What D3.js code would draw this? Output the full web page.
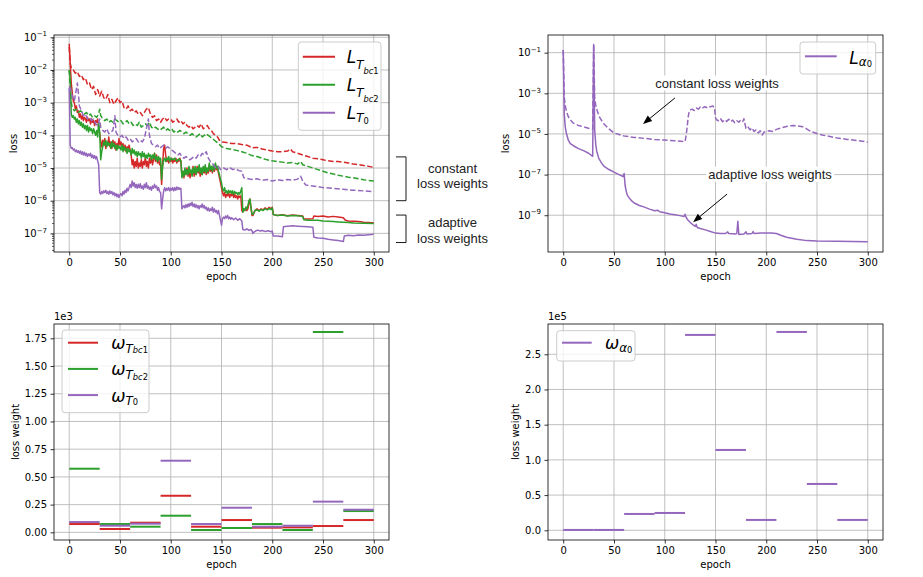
<!DOCTYPE html>
<html>
<head>
<meta charset="utf-8">
<script src="https://cdn.jsdelivr.net/npm/d3@7"></script>
<style>
  body { margin: 0; background: #fff; }
  svg { display: block; }
</style>
</head>
<body>
<script>
// ---------- data ----------
// top panels: [epoch, log10(loss)]
const epochTicks = [0, 50, 100, 150, 200, 250, 300];

const bc1Constant = [[0,-1.3],[1,-1.8],[2,-1.95],[4,-2.0],[6,-2.1],[8,-2.05],[10,-2.2],[12,-2.15],[14,-2.3],[16,-2.25],[18,-2.45],[20,-2.4],[22,-2.6],[24,-2.5],[26,-2.75],[28,-2.6],[30,-2.8],[32,-2.65],[34,-2.85],[36,-2.9],[38,-2.75],[40,-3.0],[42,-2.9],[44,-3.05],[46,-2.95],[48,-2.85],[50,-3.0],[52,-2.95],[54,-3.15],[56,-3.2],[58,-3.1],[60,-3.25],[62,-3.2],[64,-3.3],[66,-3.25],[68,-3.35],[70,-3.3],[72,-3.4],[74,-3.3],[76,-3.2],[78,-3.15],[80,-3.35],[82,-3.45],[84,-3.4],[86,-3.55],[88,-3.5],[90,-3.6],[92,-3.5],[94,-3.45],[96,-3.55],[98,-3.5],[100,-3.5],[102,-3.6],[104,-3.55],[106,-3.5],[108,-3.6],[110,-3.55],[112,-3.65],[114,-3.6],[116,-3.7],[118,-3.75],[120,-3.7],[122,-3.8],[124,-3.75],[126,-3.7],[128,-3.75],[130,-3.65],[132,-3.8],[134,-3.75],[136,-3.7],[138,-3.8],[140,-3.85],[142,-3.95],[144,-4.0],[146,-4.05],[148,-4.15],[150,-4.2],[155,-4.22],[160,-4.25],[165,-4.25],[170,-4.28],[175,-4.3],[180,-4.38],[185,-4.37],[190,-4.42],[195,-4.45],[200,-4.48],[205,-4.5],[210,-4.5],[215,-4.48],[218,-4.42],[220,-4.5],[225,-4.55],[230,-4.6],[235,-4.65],[240,-4.7],[245,-4.72],[250,-4.75],[255,-4.78],[260,-4.8],[265,-4.8],[270,-4.82],[275,-4.85],[280,-4.88],[285,-4.9],[290,-4.92],[295,-4.95],[300,-4.98]];

const bc2Constant = [[0,-2.0],[1,-2.6],[2,-3.0],[3,-3.15],[5,-3.25],[7,-3.2],[9,-3.3],[11,-3.25],[13,-3.3],[15,-3.35],[17,-3.3],[19,-3.4],[21,-3.35],[23,-3.45],[25,-3.4],[27,-3.45],[29,-3.35],[30,-3.2],[31,-3.4],[33,-3.5],[35,-3.55],[37,-3.5],[39,-3.6],[41,-3.55],[43,-3.6],[45,-3.5],[47,-3.55],[49,-3.6],[51,-3.55],[53,-3.65],[55,-3.6],[57,-3.55],[59,-3.65],[61,-3.6],[63,-3.7],[65,-3.65],[67,-3.7],[69,-3.6],[71,-3.75],[73,-3.7],[75,-3.65],[77,-3.7],[79,-3.6],[81,-3.75],[83,-3.8],[85,-3.75],[87,-3.8],[89,-3.85],[91,-3.8],[93,-3.75],[95,-3.85],[97,-3.8],[99,-3.85],[101,-3.8],[103,-3.9],[105,-3.85],[107,-3.9],[109,-3.85],[111,-3.9],[113,-3.95],[115,-3.9],[117,-3.95],[119,-4.0],[121,-3.95],[123,-4.0],[125,-4.05],[127,-4.0],[129,-3.95],[131,-4.05],[133,-4.0],[135,-3.95],[137,-4.0],[139,-4.05],[141,-4.1],[143,-4.15],[145,-4.2],[148,-4.28],[150,-4.35],[155,-4.4],[160,-4.43],[165,-4.46],[170,-4.5],[175,-4.55],[180,-4.62],[185,-4.65],[190,-4.7],[195,-4.75],[200,-4.78],[205,-4.8],[210,-4.82],[215,-4.85],[220,-4.83],[225,-4.88],[228,-4.8],[230,-4.9],[235,-4.95],[240,-5.0],[245,-5.05],[250,-5.1],[255,-5.15],[260,-5.18],[265,-5.22],[270,-5.25],[275,-5.28],[280,-5.3],[285,-5.33],[290,-5.36],[295,-5.38],[300,-5.4]];

const t0Constant = [[0,-2.5],[1,-2.55],[3,-2.8],[5,-2.95],[7,-2.6],[8,-2.4],[9,-2.7],[10,-3.1],[12,-3.25],[14,-3.4],[16,-3.35],[18,-3.5],[20,-3.45],[22,-3.55],[24,-3.5],[26,-3.65],[28,-3.7],[30,-3.5],[31,-3.75],[33,-3.85],[35,-3.9],[37,-3.8],[39,-3.95],[41,-3.9],[43,-3.85],[45,-3.4],[46,-3.9],[48,-4.0],[50,-4.05],[52,-4.0],[54,-4.1],[56,-4.05],[58,-4.15],[60,-4.1],[62,-4.2],[64,-4.15],[66,-4.1],[68,-4.2],[70,-4.15],[72,-4.2],[74,-4.1],[76,-3.8],[78,-3.5],[79,-4.0],[81,-4.25],[83,-4.3],[85,-4.35],[87,-4.3],[89,-4.4],[91,-4.35],[93,-4.3],[95,-4.4],[97,-4.35],[99,-4.4],[101,-4.45],[103,-4.5],[105,-4.55],[107,-4.6],[109,-4.55],[111,-4.65],[113,-4.7],[115,-4.65],[117,-4.7],[119,-4.75],[121,-4.7],[123,-4.65],[125,-4.7],[127,-4.6],[129,-4.65],[131,-4.55],[133,-4.6],[135,-4.5],[137,-4.7],[139,-4.8],[141,-4.85],[143,-4.95],[145,-5.0],[147,-4.95],[149,-5.05],[152,-5.0],[155,-5.05],[158,-4.98],[161,-5.05],[164,-5.02],[167,-5.08],[170,-5.1],[172,-5.3],[175,-5.32],[180,-5.35],[185,-5.33],[190,-5.38],[195,-5.35],[200,-5.4],[205,-5.36],[210,-5.38],[215,-5.35],[220,-5.37],[225,-5.34],[228,-5.25],[230,-5.4],[233,-5.52],[240,-5.55],[245,-5.57],[250,-5.6],[260,-5.62],[270,-5.65],[280,-5.68],[290,-5.7],[300,-5.72]];

const bc1Adaptive = [[0,-1.2],[1,-1.8],[2,-2.4],[3,-2.7],[4,-2.95],[5,-3.0],[6,-3.2],[7,-3.1],[8,-3.3],[9,-3.25],[10,-3.45],[11,-3.35],[12,-3.5],[13,-3.4],[14,-3.55],[15,-3.45],[16,-3.5],[17,-3.6],[18,-3.45],[19,-3.55],[20,-3.5],[21,-3.65],[22,-3.5],[23,-3.6],[24,-3.55],[25,-3.7],[26,-3.55],[27,-3.6],[28,-3.5],[29,-3.75],[30,-3.95],[31,-4.2],[32,-4.35],[33,-4.15],[34,-4.3],[35,-4.1],[36,-4.4],[37,-4.2],[38,-4.3],[39,-4.05],[40,-4.35],[41,-4.2],[42,-4.4],[43,-4.15],[44,-4.3],[45,-4.2],[46,-4.45],[47,-4.25],[48,-4.35],[49,-4.1],[50,-4.3],[51,-4.2],[52,-4.4],[53,-4.25],[54,-4.45],[55,-4.3],[56,-4.5],[57,-4.35],[58,-4.4],[59,-4.3],[60,-4.45],[61,-4.6],[62,-4.9],[63,-4.75],[64,-5.0],[65,-4.8],[66,-4.95],[67,-4.7],[68,-5.0],[69,-4.85],[70,-4.95],[71,-4.75],[72,-5.0],[73,-4.8],[74,-4.9],[75,-4.65],[76,-4.95],[77,-4.8],[78,-5.0],[79,-4.7],[80,-4.85],[81,-4.65],[82,-4.9],[83,-4.75],[84,-4.55],[85,-4.8],[86,-4.6],[87,-4.85],[88,-4.7],[89,-4.9],[90,-4.85],[91,-5.5],[92,-4.9],[93,-4.4],[94,-4.3],[95,-4.6],[96,-4.8],[97,-4.7],[98,-4.85],[99,-4.75],[100,-4.8],[101,-4.7],[102,-4.85],[103,-4.75],[104,-4.8],[105,-4.7],[106,-4.85],[107,-4.75],[108,-4.8],[109,-4.7],[110,-4.8],[111,-5.25],[112,-5.1],[113,-5.3],[114,-5.05],[115,-5.2],[116,-5.0],[117,-5.25],[118,-5.05],[119,-5.3],[120,-5.1],[121,-5.2],[122,-4.95],[123,-5.25],[124,-5.05],[125,-5.2],[126,-4.95],[127,-5.15],[128,-5.0],[129,-5.25],[130,-5.05],[131,-5.2],[132,-5.0],[133,-5.15],[134,-4.95],[135,-5.2],[136,-5.05],[137,-5.15],[138,-4.9],[139,-5.1],[140,-5.0],[141,-5.15],[142,-4.95],[143,-5.1],[144,-4.9],[145,-5.05],[146,-5.0],[147,-5.15],[148,-5.3],[149,-5.45],[150,-5.6],[151,-5.75],[152,-5.85],[153,-5.75],[154,-5.9],[155,-5.8],[156,-5.85],[157,-5.75],[158,-5.9],[159,-5.8],[160,-5.85],[161,-5.75],[162,-5.9],[163,-5.8],[164,-5.9],[165,-5.85],[166,-5.95],[167,-5.85],[168,-5.9],[169,-5.85],[170,-6.3],[171,-6.35],[172,-6.25],[173,-6.3],[174,-6.2],[175,-6.3],[176,-6.25],[177,-6.1],[178,-5.95],[179,-6.2],[180,-6.45],[181,-6.45],[183,-6.3],[185,-6.25],[187,-6.3],[189,-6.25],[191,-6.28],[193,-6.22],[195,-6.27],[197,-6.2],[199,-6.25],[200,-6.2],[201,-6.42],[205,-6.45],[210,-6.43],[215,-6.46],[220,-6.44],[225,-6.45],[230,-6.47],[231,-6.55],[235,-6.56],[240,-6.55],[241,-6.47],[245,-6.48],[250,-6.47],[255,-6.5],[260,-6.48],[265,-6.5],[270,-6.52],[272,-6.6],[275,-6.62],[280,-6.63],[285,-6.64],[290,-6.66],[295,-6.67],[300,-6.68]];

const bc2Adaptive = [[0,-2.0],[1,-2.3],[2,-3.35],[3,-3.45],[4,-3.4],[5,-3.5],[6,-3.45],[7,-3.6],[8,-3.5],[9,-3.65],[10,-3.55],[11,-3.7],[12,-3.6],[13,-3.75],[14,-3.65],[15,-3.8],[16,-3.7],[17,-3.85],[18,-3.7],[19,-3.9],[20,-3.75],[21,-3.85],[22,-3.8],[23,-3.95],[24,-3.8],[25,-3.9],[26,-4.0],[27,-3.85],[28,-4.05],[29,-3.6],[30,-3.9],[31,-4.75],[32,-4.5],[33,-4.35],[34,-4.2],[35,-4.3],[36,-4.15],[37,-4.35],[38,-4.2],[39,-4.3],[40,-4.25],[41,-4.4],[42,-4.2],[43,-4.35],[44,-4.25],[45,-4.4],[46,-4.3],[47,-4.45],[48,-4.3],[49,-4.4],[50,-4.35],[51,-4.45],[52,-4.3],[53,-4.5],[54,-4.35],[55,-4.45],[56,-4.4],[57,-4.55],[58,-4.4],[59,-4.5],[60,-4.45],[61,-4.6],[62,-4.4],[63,-4.55],[64,-4.45],[65,-4.6],[66,-4.5],[67,-4.65],[68,-4.5],[69,-4.6],[70,-4.55],[71,-4.7],[72,-4.5],[73,-4.65],[74,-4.55],[75,-4.7],[76,-4.6],[77,-4.7],[78,-4.55],[79,-4.65],[80,-4.6],[81,-4.75],[82,-4.6],[83,-4.7],[84,-4.55],[85,-4.75],[86,-4.65],[87,-4.8],[88,-4.65],[89,-4.75],[90,-4.7],[91,-5.35],[92,-4.95],[93,-4.75],[94,-4.7],[95,-4.8],[96,-4.7],[97,-4.75],[98,-4.65],[99,-4.8],[100,-4.7],[102,-4.75],[104,-4.7],[106,-4.8],[108,-4.72],[110,-4.78],[111,-5.3],[112,-5.1],[113,-5.25],[114,-5.0],[115,-5.2],[116,-5.05],[117,-5.2],[118,-4.95],[119,-5.15],[120,-5.05],[121,-5.25],[122,-5.0],[123,-5.15],[124,-4.95],[125,-5.2],[126,-5.0],[127,-5.1],[128,-4.9],[129,-5.15],[130,-5.0],[131,-5.2],[132,-4.95],[133,-5.1],[134,-4.9],[135,-5.15],[136,-5.0],[137,-5.1],[138,-4.85],[139,-5.05],[140,-4.95],[141,-5.1],[142,-4.9],[143,-5.05],[144,-4.85],[145,-5.0],[146,-4.95],[147,-5.1],[148,-5.2],[149,-5.35],[150,-5.45],[151,-5.65],[152,-5.7],[153,-5.6],[154,-5.75],[155,-5.7],[156,-5.78],[157,-5.68],[158,-5.75],[159,-5.7],[160,-5.78],[161,-5.7],[162,-5.8],[163,-5.72],[164,-5.78],[165,-5.75],[166,-5.82],[167,-5.75],[168,-5.8],[169,-5.7],[170,-5.6],[171,-6.35],[172,-6.25],[173,-6.3],[174,-6.2],[175,-6.25],[176,-6.15],[177,-6.0],[178,-5.95],[179,-6.2],[180,-6.4],[181,-6.42],[183,-6.3],[185,-6.28],[187,-6.32],[189,-6.27],[191,-6.3],[193,-6.25],[195,-6.28],[197,-6.24],[199,-6.27],[200,-6.22],[201,-6.42],[205,-6.45],[210,-6.44],[215,-6.47],[220,-6.45],[225,-6.46],[230,-6.48],[231,-6.58],[235,-6.6],[240,-6.6],[245,-6.6],[250,-6.62],[255,-6.63],[260,-6.64],[265,-6.65],[270,-6.66],[275,-6.67],[280,-6.68],[290,-6.69],[300,-6.7]];

const t0Adaptive = [[0,-2.55],[1,-4.3],[2,-4.4],[3,-4.38],[4,-4.45],[5,-4.42],[6,-4.5],[7,-4.45],[8,-4.52],[9,-4.47],[10,-4.55],[11,-4.48],[12,-4.58],[13,-4.5],[14,-4.6],[15,-4.52],[16,-4.62],[17,-4.55],[18,-4.65],[19,-4.57],[20,-4.62],[21,-4.55],[22,-4.68],[23,-4.6],[24,-4.7],[25,-4.62],[26,-4.72],[27,-4.65],[28,-4.78],[29,-4.9],[30,-5.75],[31,-5.8],[32,-5.72],[33,-5.78],[34,-5.7],[35,-5.75],[36,-5.68],[37,-5.78],[38,-5.72],[39,-5.8],[40,-5.7],[41,-5.78],[42,-5.72],[43,-5.82],[44,-5.75],[45,-5.85],[46,-5.78],[47,-5.88],[48,-5.8],[49,-5.9],[50,-5.82],[51,-5.78],[52,-5.85],[53,-5.72],[54,-5.8],[55,-5.68],[56,-5.75],[57,-5.62],[58,-5.7],[59,-5.6],[60,-5.5],[61,-5.6],[62,-5.4],[63,-5.55],[64,-5.45],[65,-5.6],[66,-5.5],[67,-5.62],[68,-5.5],[69,-5.6],[70,-5.48],[71,-5.62],[72,-5.55],[73,-5.65],[74,-5.5],[75,-5.6],[76,-5.45],[77,-5.62],[78,-5.55],[79,-5.65],[80,-5.58],[81,-5.68],[82,-5.55],[83,-5.62],[84,-5.5],[85,-5.6],[86,-5.55],[87,-5.68],[88,-5.6],[89,-5.72],[90,-5.75],[91,-6.25],[92,-5.95],[93,-5.7],[94,-5.6],[95,-5.7],[96,-5.62],[97,-5.68],[98,-5.6],[99,-5.7],[100,-5.62],[101,-5.68],[102,-5.6],[103,-5.7],[104,-5.6],[105,-5.68],[106,-5.58],[107,-5.66],[108,-5.6],[109,-5.65],[110,-5.62],[111,-6.25],[112,-6.2],[113,-6.15],[114,-6.22],[115,-6.12],[116,-6.2],[117,-6.1],[118,-6.18],[119,-6.08],[120,-6.15],[121,-6.05],[122,-6.18],[123,-6.1],[124,-6.2],[125,-6.12],[126,-6.22],[127,-6.15],[128,-6.25],[129,-6.15],[130,-6.2],[131,-6.1],[132,-6.22],[133,-6.15],[134,-6.25],[135,-6.2],[136,-6.3],[137,-6.22],[138,-6.32],[139,-6.25],[140,-6.3],[141,-6.2],[142,-6.35],[143,-6.25],[144,-6.35],[145,-6.3],[146,-6.4],[147,-6.3],[148,-6.45],[149,-6.6],[150,-6.75],[151,-6.55],[152,-6.5],[153,-6.55],[154,-6.47],[155,-6.53],[156,-6.45],[157,-6.55],[158,-6.5],[159,-6.57],[160,-6.52],[162,-6.58],[164,-6.53],[166,-6.6],[168,-6.55],[170,-6.62],[171,-6.88],[173,-6.9],[175,-6.86],[177,-6.91],[179,-6.88],[180,-6.92],[181,-7.0],[182,-6.96],[184,-6.92],[186,-6.9],[188,-6.93],[190,-6.91],[193,-6.94],[196,-6.92],[199,-6.95],[200,-6.93],[201,-7.08],[205,-7.08],[210,-7.1],[211,-6.8],[215,-6.78],[220,-6.77],[225,-6.78],[230,-6.79],[235,-6.8],[240,-6.81],[241,-7.12],[245,-7.14],[250,-7.15],[255,-7.18],[260,-7.2],[265,-7.22],[270,-7.25],[271,-7.08],[275,-7.06],[280,-7.07],[285,-7.05],[290,-7.06],[295,-7.04],[300,-7.03]];

const a0Adaptive = [[0,-0.87],[1,-4.0],[2,-4.65],[3,-4.95],[5,-5.3],[7,-5.48],[10,-5.58],[15,-5.72],[20,-5.82],[25,-5.95],[29,-6.1],[30,-0.6],[31,-4.8],[32,-5.5],[33,-5.85],[35,-6.2],[38,-6.45],[40,-6.58],[45,-6.75],[50,-6.88],[55,-7.0],[59,-7.1],[60,-6.95],[61,-7.55],[62,-7.8],[63,-8.0],[65,-8.15],[68,-8.32],[70,-8.4],[75,-8.52],[80,-8.6],[85,-8.7],[90,-8.78],[93,-8.75],[95,-8.83],[100,-8.88],[105,-8.94],[110,-8.98],[115,-9.02],[119,-9.06],[120,-8.95],[121,-9.1],[123,-9.25],[125,-9.35],[128,-9.48],[130,-9.55],[131,-9.45],[132,-9.6],[135,-9.65],[140,-9.72],[145,-9.8],[150,-9.88],[155,-9.9],[160,-9.9],[162,-9.82],[163,-9.9],[170,-9.92],[171,-9.9],[172,-9.3],[173,-9.95],[178,-9.92],[180,-9.82],[181,-9.92],[186,-9.9],[187,-9.8],[188,-9.9],[195,-9.88],[200,-9.88],[205,-9.88],[210,-9.9],[215,-10.0],[220,-10.08],[230,-10.18],[240,-10.25],[250,-10.27],[270,-10.28],[300,-10.3]];

const a0Constant = [[0,-0.87],[1,-3.2],[2,-3.6],[3,-3.85],[5,-4.15],[7,-4.3],[10,-4.47],[15,-4.58],[20,-4.65],[25,-4.72],[29,-4.76],[30,-0.6],[31,-3.2],[32,-3.6],[34,-3.95],[36,-4.2],[40,-4.5],[45,-4.75],[50,-4.95],[55,-5.03],[60,-5.1],[70,-5.17],[80,-5.22],[90,-5.27],[100,-5.3],[110,-5.34],[120,-5.38],[121,-5.1],[122,-4.7],[123,-4.2],[124,-3.9],[125,-3.82],[127,-3.78],[129,-3.85],[131,-3.72],[133,-3.78],[135,-3.68],[137,-3.74],[139,-3.66],[141,-3.7],[143,-3.63],[145,-3.67],[147,-3.62],[149,-3.7],[150,-4.2],[151,-4.3],[153,-4.35],[155,-4.25],[157,-4.4],[159,-4.3],[161,-4.38],[163,-4.28],[165,-4.4],[167,-4.32],[169,-4.45],[171,-4.35],[173,-4.42],[175,-4.3],[177,-4.38],[178,-4.25],[179,-4.5],[180,-4.72],[182,-4.65],[184,-4.8],[186,-4.7],[188,-4.88],[190,-4.8],[192,-4.95],[194,-4.85],[196,-5.05],[198,-4.9],[200,-4.88],[203,-4.84],[206,-4.88],[209,-4.8],[212,-4.74],[215,-4.7],[218,-4.66],[221,-4.62],[224,-4.6],[227,-4.58],[230,-4.6],[233,-4.62],[236,-4.65],[239,-4.72],[242,-4.82],[245,-4.9],[250,-4.98],[255,-5.05],[260,-5.1],[270,-5.2],[280,-5.27],[290,-5.33],[300,-5.4]];

// bottom panels: loss weight per 30-epoch stage
const stageStarts = [0, 30, 60, 90, 120, 150, 180, 210, 240, 270];
const weightBc1 = [75, 30, 87, 330, 51, 111, 42, 45, 57, 111];
const weightBc2 = [574, 75, 51, 150, 21, 39, 75, 21, 1807, 192];
const weightT0  = [93, 60, 78, 646, 75, 222, 51, 60, 277, 204];
const weightA0  = [500, 500, 23200, 24600, 277500, 114100, 14700, 281700, 65800, 14700];

const lossTicksLeft = [-1, -2, -3, -4, -5, -6, -7];
const lossTicksRight = [-1, -3, -5, -7, -9];
const weightTicksLeft = [0, 250, 500, 750, 1000, 1250, 1500, 1750];
const weightTicksRight = [0, 50000, 100000, 150000, 200000, 250000];

const red = "#d62728", green = "#2ca02c", purple = "#9467bd";
const font = "DejaVu Sans";

// ---------- drawing ----------
const svg = d3.select("body").append("svg").attr("width", 923).attr("height", 577);

function makePanel(id, box, y) {
  const x = d3.scaleLinear().domain([-15, 315]).range([box.x0, box.x1]);
  const g = svg.append("g");
  g.append("clipPath").attr("id", id).append("rect")
    .attr("x", box.x0).attr("y", box.y0)
    .attr("width", box.x1 - box.x0).attr("height", box.y1 - box.y0);
  return { g, x, y, box, clip: `url(#${id})` };
}

function grid(p, yVals) {
  const gg = p.g.append("g").attr("stroke", "#b0b0b0").attr("stroke-width", 0.8);
  epochTicks.forEach(v => gg.append("line")
    .attr("x1", p.x(v)).attr("x2", p.x(v)).attr("y1", p.box.y0).attr("y2", p.box.y1));
  yVals.forEach(v => gg.append("line")
    .attr("x1", p.box.x0).attr("x2", p.box.x1).attr("y1", p.y(v)).attr("y2", p.y(v)));
}

function styleAxis(ax) {
  ax.select(".domain").remove();
  ax.attr("font-family", font).attr("font-size", 10);
  ax.selectAll(".tick line").attr("stroke", "#000").attr("stroke-width", 0.8);
  ax.selectAll(".tick text").attr("fill", "#000");
}

function axes(p, yVals, yFmt, logLabels) {
  const bx = p.g.append("g").attr("transform", `translate(0,${p.box.y1})`)
    .call(d3.axisBottom(p.x).tickValues(epochTicks).tickSize(3.5).tickPadding(3.5).tickFormat(d3.format("d")));
  styleAxis(bx);
  const ly = p.g.append("g").attr("transform", `translate(${p.box.x0},0)`)
    .call(d3.axisLeft(p.y).tickValues(yVals).tickSize(3.5).tickPadding(3.5).tickFormat(yFmt || (() => "")));
  styleAxis(ly);
  if (logLabels) {
    ly.selectAll(".tick text").each(function(d) {
      const t = d3.select(this).text(null);
      t.append("tspan").text("10");
      t.append("tspan").attr("font-size", 7).attr("dy", -4.5).text("\u2212" + Math.round(-Math.log10(d)));
    });
  }
  p.g.append("rect")
    .attr("x", p.box.x0).attr("y", p.box.y0)
    .attr("width", p.box.x1 - p.box.x0).attr("height", p.box.y1 - p.box.y0)
    .attr("fill", "none").attr("stroke", "#000").attr("stroke-width", 0.8);
  p.g.append("text").attr("x", (p.box.x0 + p.box.x1) / 2).attr("y", p.box.y1 + 28)
    .attr("text-anchor", "middle").attr("font-family", font).attr("font-size", 10).text("epoch");
}

function yLabel(p, x, txt) {
  const cy = (p.box.y0 + p.box.y1) / 2;
  p.g.append("text").attr("transform", `translate(${x},${cy}) rotate(-90)`)
    .attr("text-anchor", "middle").attr("dy", "0.35em")
    .attr("font-family", font).attr("font-size", 10).text(txt);
}

function lossLine(p, data, color, dashed) {
  const line = d3.line().x(d => p.x(d[0])).y(d => p.y(Math.pow(10, d[1])));
  p.g.append("path").datum(data)
    .attr("clip-path", p.clip)
    .attr("d", line).attr("fill", "none")
    .attr("stroke", color).attr("stroke-width", 1.5)
    .attr("stroke-linejoin", "round")
    .attr("stroke-dasharray", dashed ? "5.5,2.4" : null);
}

function stageLines(p, values, color) {
  p.g.append("g").selectAll("line").data(values).join("line")
    .attr("x1", (d, i) => p.x(stageStarts[i]))
    .attr("x2", (d, i) => p.x(stageStarts[i] + 30))
    .attr("y1", d => p.y(d)).attr("y2", d => p.y(d))
    .attr("stroke", color).attr("stroke-width", 2);
}

// math-style label: parts = [text, italic, fontSize, baselineOffset]
function mathText(g, x, y, parts) {
  const t = g.append("text").attr("x", x).attr("y", y).attr("font-family", font).attr("fill", "#000");
  parts.forEach(([s, it, size, off]) => {
    t.append("tspan").attr("y", y + off).attr("font-size", size)
      .attr("font-style", it ? "italic" : "normal").text(s);
  });
}

function legend(g, box, entries) {
  g.append("rect").attr("x", box.x).attr("y", box.y).attr("width", box.w).attr("height", box.h)
    .attr("rx", 3).attr("fill", "#fff").attr("fill-opacity", 0.8)
    .attr("stroke", "#cccccc").attr("stroke-width", 1);
  entries.forEach((e, i) => {
    const cy = box.y + box.first + i * box.step;
    g.append("line").attr("x1", box.x + box.l0).attr("x2", box.x + box.l1)
      .attr("y1", cy).attr("y2", cy).attr("stroke", e.color).attr("stroke-width", 2);
    mathText(g, box.x + box.tx, cy + box.base, e.parts);
  });
}

const S0 = 17, S1 = 11.9, S2 = 8.3;

// ----- top-left: boundary / initial losses -----
const tl = makePanel("c1", { x0: 54, x1: 389, y0: 35, y1: 252 },
  d3.scaleLog().domain([Math.pow(10, -7.57), Math.pow(10, -0.93)]).range([252, 35]));
const tlTicks = lossTicksLeft.map(e => Math.pow(10, e));
grid(tl, tlTicks);
lossLine(tl, bc1Adaptive, red, false);
lossLine(tl, bc1Constant, red, true);
lossLine(tl, bc2Adaptive, green, false);
lossLine(tl, bc2Constant, green, true);
lossLine(tl, t0Adaptive, purple, false);
lossLine(tl, t0Constant, purple, true);
axes(tl, tlTicks, null, true);
// minor ticks of the log axis
const minor = [];
for (let e = -8; e <= -1; e++) for (let m = 2; m <= 9; m++) {
  const v = m * Math.pow(10, e);
  if (v > tl.y.domain()[0] && v < tl.y.domain()[1]) minor.push(v);
}
tl.g.append("g").selectAll("line").data(minor).join("line")
  .attr("x1", 54).attr("x2", 52).attr("y1", d => tl.y(d)).attr("y2", d => tl.y(d))
  .attr("stroke", "#000").attr("stroke-width", 0.6);
yLabel(tl, 13, "loss");
legend(tl.g, { x: 298.3, y: 42, w: 82.7, h: 88.3, first: 14.7, step: 28, l0: 4.5, l1: 36.7, tx: 48.4, base: 6.6 }, [
  { color: red, parts: [["L", 1, S0, 0], ["T", 1, S1, 5.5], ["bc", 1, S2, 10.5], ["1", 0, S2, 10.5]] },
  { color: green, parts: [["L", 1, S0, 0], ["T", 1, S1, 5.5], ["bc", 1, S2, 10.5], ["2", 0, S2, 10.5]] },
  { color: purple, parts: [["L", 1, S0, 0], ["T", 1, S1, 2.8], ["0", 0, S2, 4.8]] }
]);

// brackets outside the top-left axes
const brackets = [
  { top: -4.66, bottom: -6.0, lines: ["constant", "loss weights"], textY: [168.3, 183.3] },
  { top: -6.44, bottom: -7.28, lines: ["adaptive", "loss weights"], textY: [222.7, 238.3] }
];
brackets.forEach(b => {
  const y0 = tl.y(Math.pow(10, b.top)), y1 = tl.y(Math.pow(10, b.bottom));
  tl.g.append("path").attr("d", `M396,${y0}H406V${y1}H396`)
    .attr("fill", "none").attr("stroke", "#000").attr("stroke-width", 0.9);
  b.lines.forEach((s, i) => tl.g.append("text")
    .attr("x", 452.5).attr("y", b.textY[i] + 4.5)
    .attr("text-anchor", "middle").attr("font-family", "Liberation Sans").attr("font-size", 13)
    .attr("fill", "#222").text(s));
});

// ----- top-right: alpha_0 loss -----
const tr = makePanel("c2", { x0: 548, x1: 883, y0: 35, y1: 252 },
  d3.scaleLog().domain([Math.pow(10, -10.81), Math.pow(10, -0.13)]).range([252, 35]));
const trTicks = lossTicksRight.map(e => Math.pow(10, e));
grid(tr, trTicks);
lossLine(tr, a0Constant, purple, true);
lossLine(tr, a0Adaptive, purple, false);
axes(tr, trTicks, null, true);
yLabel(tr, 505, "loss");
legend(tr.g, { x: 800, y: 42, w: 75.7, h: 32, first: 14.3, step: 0, l0: 5, l1: 36.7, tx: 49.3, base: 7.2 }, [
  { color: purple, parts: [["L", 1, S0, 0], ["\u03b1", 1, S1, 2.6], ["0", 0, S2, 3.8]] }
]);

const notes = [
  { text: "constant loss weights", tx: 151.5, ty: -2.49, from: [110, -3.23], to: [78.6, -4.51] },
  { text: "adaptive loss weights", tx: 203.7, ty: -6.98, from: [161.4, -7.96], to: [127.9, -9.34] }
];
notes.forEach(n => {
  const px = tr.x(n.tx), py = tr.y(Math.pow(10, n.ty));
  const t = tr.g.append("text").attr("x", px).attr("y", py).attr("dy", "0.35em")
    .attr("text-anchor", "middle").attr("font-family", "Liberation Sans").attr("font-size", 13)
    .attr("fill", "#222").text(n.text);
  const bb = t.node().getBBox();
  tr.g.insert("rect", () => t.node()).attr("x", bb.x - 2).attr("y", bb.y).attr("width", bb.width + 4)
    .attr("height", bb.height).attr("fill", "#fff");
  const x0 = tr.x(n.from[0]), y0 = tr.y(Math.pow(10, n.from[1]));
  const x1 = tr.x(n.to[0]), y1 = tr.y(Math.pow(10, n.to[1]));
  const ang = Math.atan2(y1 - y0, x1 - x0), hl = 9, hw = 3.5;
  const bxp = x1 - hl * Math.cos(ang), byp = y1 - hl * Math.sin(ang);
  tr.g.append("line").attr("x1", x0).attr("y1", y0).attr("x2", bxp).attr("y2", byp)
    .attr("stroke", "#000").attr("stroke-width", 1);
  tr.g.append("path")
    .attr("d", `M${x1},${y1}L${bxp - hw * Math.sin(ang)},${byp + hw * Math.cos(ang)}L${bxp + hw * Math.sin(ang)},${byp - hw * Math.cos(ang)}Z`)
    .attr("fill", "#000");
});

// ----- bottom-left: weights of boundary / initial terms -----
const bl = makePanel("c3", { x0: 54, x1: 389, y0: 324, y1: 540 },
  d3.scaleLinear().domain([-69, 1879]).range([540, 324]));
grid(bl, weightTicksLeft);
stageLines(bl, weightBc1, red);
stageLines(bl, weightBc2, green);
stageLines(bl, weightT0, purple);
axes(bl, weightTicksLeft, d => (d / 1000).toFixed(2), false);
yLabel(bl, 15, "loss weight");
bl.g.append("text").attr("x", 54).attr("y", 320).attr("font-family", font).attr("font-size", 10).text("1e3");
legend(bl.g, { x: 62, y: 330, w: 87, h: 82.7, first: 12.7, step: 26.2, l0: 6, l1: 36, tx: 49.3, base: 6.5 }, [
  { color: red, parts: [["\u03c9", 1, S0, 0], ["T", 1, S1, 3.4], ["bc", 1, S2, 4.2], ["1", 0, S2, 4.2]] },
  { color: green, parts: [["\u03c9", 1, S0, 0], ["T", 1, S1, 3.4], ["bc", 1, S2, 4.2], ["2", 0, S2, 4.2]] },
  { color: purple, parts: [["\u03c9", 1, S0, 0], ["T", 1, S1, 3.0], ["0", 0, S2, 3.6]] }
]);

// ----- bottom-right: weight of alpha_0 term -----
const br = makePanel("c4", { x0: 548, x1: 883, y0: 324, y1: 540 },
  d3.scaleLinear().domain([-13800, 293000]).range([540, 324]));
grid(br, weightTicksRight);
stageLines(br, weightA0, purple);
axes(br, weightTicksRight, d => (d / 100000).toFixed(1), false);
yLabel(br, 515, "loss weight");
br.g.append("text").attr("x", 548).attr("y", 320).attr("font-family", font).attr("font-size", 10).text("1e5");
legend(br.g, { x: 556.7, y: 330.7, w: 78.3, h: 30.3, first: 12, step: 0, l0: 5.3, l1: 35, tx: 48.3, base: 6.5 }, [
  { color: purple, parts: [["\u03c9", 1, S0, 0], ["\u03b1", 1, S1, 2.6], ["0", 0, S2, 3.8]] }
]);
</script>
</body>
</html>
